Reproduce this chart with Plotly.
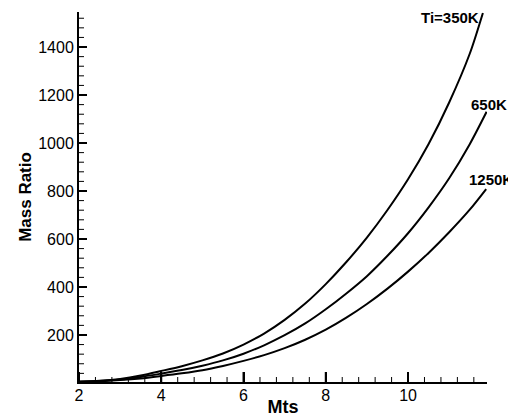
import plotly.graph_objects as go

# Mts values and Mass Ratio for each initial temperature
mts_350 = [2, 2.5, 3, 3.5, 4, 4.5, 5, 5.5, 6, 6.5, 7, 7.5, 8, 8.5, 9, 9.5, 10, 10.5, 11, 11.5, 11.82]
mr_350 = [5, 9, 17, 31, 50, 70, 94, 123, 160, 206, 263, 331, 412, 504, 606, 721, 849, 996, 1169, 1372, 1542]

mts_650 = [2, 2.5, 3, 3.5, 4, 4.5, 5, 5.5, 6, 6.5, 7, 7.5, 8, 8.5, 9, 9.5, 10, 10.5, 11, 11.5, 11.91]
mr_650 = [5, 8, 14, 25, 39, 54, 72, 94, 122, 157, 199, 248, 307, 373, 445, 530, 624, 732, 853, 995, 1130]

mts_1250 = [2, 2.5, 3, 3.5, 4, 4.5, 5, 5.5, 6, 6.5, 7, 7.5, 8, 8.5, 9, 9.5, 10, 10.5, 11, 11.5, 11.9]
mr_1250 = [5, 7, 12, 19, 29, 40, 53, 71, 92, 116, 145, 180, 222, 272, 329, 393, 464, 542, 628, 722, 808]

labels = ["Ti=350K", "650K", "1250K"]

x_range = [2, 11.92]
y_range = [4, 1546]
x_major = [2, 4, 6, 8, 10]
y_major = [200, 400, 600, 800, 1000, 1200, 1400]
x_minor_step = 0.4
y_minor_step = 40

series = [(mts_350, mr_350), (mts_650, mr_650), (mts_1250, mr_1250)]

fig = go.Figure()
for xs, ys in series:
    fig.add_trace(go.Scatter(x=xs, y=ys, mode="lines",
                             line=dict(color="black", width=2, shape="spline", smoothing=0.8),
                             showlegend=False, hoverinfo="skip"))

label_style = [
    dict(xanchor="right", yanchor="middle", xshift=-2, yshift=-5),
    dict(xanchor="center", yanchor="bottom", xshift=2, yshift=-3),
    dict(xanchor="center", yanchor="bottom", xshift=5, yshift=-1),
]
for (xs, ys), lab, st in zip(series, labels, label_style):
    fig.add_annotation(x=xs[-1], y=ys[-1], xref="x", yref="y", text=lab,
                       showarrow=False,
                       font=dict(family="Liberation Sans, Arial", size=15, color="black",
                                 weight="bold"),
                       **st)

# inside tick marks (major and minor), sized in pixels from the axis lines
x_minor = [round(x_range[0] + x_minor_step * i, 2) for i in range(1, 25)]
x_minor = [v for v in x_minor if v not in x_major and v < x_range[1]]
y_minor = [y_minor_step * i for i in range(1, 39)]
y_minor = [v for v in y_minor if v not in y_major and v < y_range[1]]

for v, ln, w in [(v, 10, 2) for v in x_major] + [(v, 5, 1) for v in x_minor]:
    fig.add_shape(type="line", xref="x", yref="y", x0=v, x1=v,
                  ysizemode="pixel", yanchor=y_range[0], y0=0, y1=ln,
                  line=dict(color="black", width=w))
for v, ln, w in [(v, 8, 2) for v in y_major] + [(v, 5, 1) for v in y_minor]:
    fig.add_shape(type="line", xref="x", yref="y", y0=v, y1=v,
                  xsizemode="pixel", xanchor=x_range[0], x0=0, x1=ln,
                  line=dict(color="black", width=w))

# the page body adds an 8px offset, so the figure is sized/margined to compensate
fig.update_layout(
    width=508, height=409,
    margin=dict(l=71, r=29, t=4, b=35, autoexpand=False),
    paper_bgcolor="white", plot_bgcolor="white",
    font=dict(family="Liberation Sans, Arial", color="black", size=16),
    xaxis=dict(
        range=x_range, tickmode="array", tickvals=x_major,
        ticktext=[str(v) for v in x_major], automargin=False,
        showgrid=False, zeroline=False, showline=True, linecolor="black", linewidth=2,
        ticks="inside", ticklen=10, tickwidth=2, tickcolor="black",
        tickfont=dict(size=16), ticklabelstandoff=-2,
        title=dict(text="<b>Mts</b>", font=dict(size=18), standoff=0),
    ),
    yaxis=dict(
        range=y_range, tickmode="array", tickvals=y_major,
        ticktext=[str(v) for v in y_major], automargin=False,
        showgrid=False, zeroline=False, showline=True, linecolor="black", linewidth=2,
        ticks="inside", ticklen=8, tickwidth=2, tickcolor="black",
        tickfont=dict(size=16),
        title=dict(text="<b>Mass Ratio</b>", font=dict(size=17), standoff=2),
    ),
)

fig.write_html("out.html")
